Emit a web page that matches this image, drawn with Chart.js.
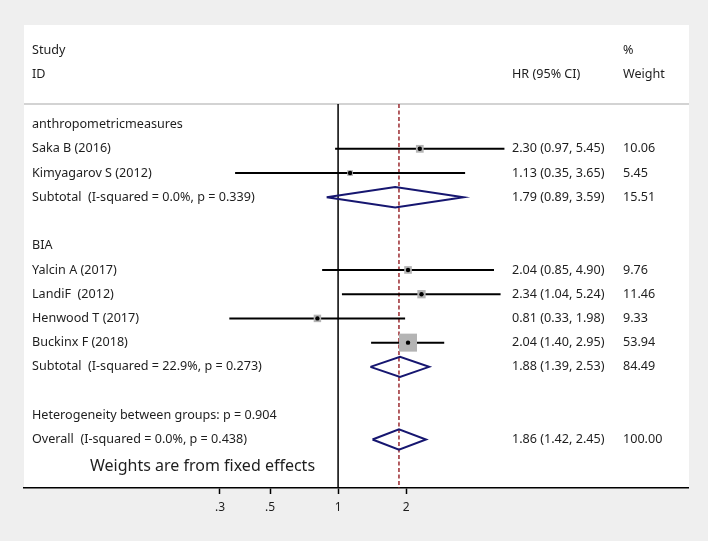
<!DOCTYPE html>
<html>
<head>
<meta charset="utf-8">
<script src="https://cdn.jsdelivr.net/npm/chart.js@4"></script>
<style>
  body { margin: 0; background: #efefef; }
  canvas { display: block; }
</style>
</head>
<body>
<canvas id="forestChart" width="708" height="541"></canvas>
<script>
// individual studies
const studyLabels = ['Saka B (2016)', 'Kimyagarov S (2012)', 'Yalcin A (2017)', 'LandiF  (2012)', 'Henwood T (2017)', 'Buckinx F (2018)'];
const studyRows = [1, 2, 6, 7, 8, 9];
const hr = [2.30, 1.13, 2.04, 2.34, 0.81, 2.04];
const ciLow = [0.97, 0.35, 0.85, 1.04, 0.33, 1.40];
const ciHigh = [5.45, 3.65, 4.90, 5.24, 1.98, 2.95];
const weights = [10.06, 5.45, 9.76, 11.46, 9.33, 53.94];

// pooled estimates (subtotals + overall)
const poolLabels = ['Subtotal  (I-squared = 0.0%, p = 0.339)', 'Subtotal  (I-squared = 22.9%, p = 0.273)', 'Overall  (I-squared = 0.0%, p = 0.438)'];
const poolRows = [3, 10, 13];
const poolHr = [1.79, 1.88, 1.86];
const poolLow = [0.89, 1.39, 1.42];
const poolHigh = [3.59, 2.53, 2.45];
const poolWeights = [15.51, 84.49, 100.00];

// group headings
const headingLabels = ['anthropometricmeasures', 'BIA', 'Heterogeneity between groups: p = 0.904'];
const headingRows = [0, 5, 12];

const xTicks = [0.3, 0.5, 1, 2];

const FONT = '"Noto Sans", "Open Sans", sans-serif';
const Y_MIN = -0.85, Y_MAX = 15;

const fmt = v => v.toFixed(2);

const ciSets = hr.map((v, i) => ({
    type: 'line',
    data: [{ x: ciLow[i], y: studyRows[i] }, { x: ciHigh[i], y: studyRows[i] }],
    borderColor: '#000',
    borderWidth: 2,
    pointRadius: 0,
    order: 3
}));

const diamondSets = poolHr.map((v, i) => ({
    type: 'line',
    data: [
        { x: poolLow[i], y: poolRows[i] },
        { x: v, y: poolRows[i] - 0.42 },
        { x: poolHigh[i], y: poolRows[i] },
        { x: v, y: poolRows[i] + 0.42 },
        { x: poolLow[i], y: poolRows[i] }
    ],
    borderColor: '#161670',
    borderWidth: 2,
    pointRadius: 0,
    fill: false,
    tension: 0,
    order: 2
}));

const bgPlugin = {
    id: 'panel',
    beforeDraw(chart) {
        const { ctx, chartArea } = chart;
        ctx.save();
        ctx.fillStyle = '#efefef';
        ctx.fillRect(0, 0, chart.width, chart.height);
        ctx.fillStyle = '#ffffff';
        ctx.fillRect(chartArea.left, 25, chartArea.right - chartArea.left + 1, chartArea.bottom - 25);
        ctx.strokeStyle = '#c4c4c4';
        ctx.lineWidth = 1.5;
        ctx.beginPath();
        ctx.moveTo(chartArea.left, chartArea.top);
        ctx.lineTo(chartArea.right + 1, chartArea.top);
        ctx.stroke();
        ctx.restore();
    }
};

const textPlugin = {
    id: 'forestText',
    afterDraw(chart) {
        const { ctx, chartArea, scales: { y } } = chart;
        const colLabel = 32, colHr = 512, colW = 623;
        ctx.save();
        ctx.fillStyle = '#1e1e1e';
        ctx.textBaseline = 'middle';
        ctx.font = '12.6px ' + FONT;

        // header
        ctx.fillText('Study', colLabel, chartArea.top - 54);
        ctx.fillText('ID', colLabel, chartArea.top - 30);
        ctx.fillText('HR (95% CI)', colHr, chartArea.top - 30);
        ctx.fillText('%', colW, chartArea.top - 54);
        ctx.fillText('Weight', colW, chartArea.top - 30);

        headingLabels.forEach((t, i) => ctx.fillText(t, colLabel, y.getPixelForValue(headingRows[i])));

        studyLabels.forEach((t, i) => {
            const py = y.getPixelForValue(studyRows[i]);
            ctx.fillText(t, colLabel, py);
            ctx.fillText(fmt(hr[i]) + ' (' + fmt(ciLow[i]) + ', ' + fmt(ciHigh[i]) + ')', colHr, py);
            ctx.fillText(fmt(weights[i]), colW, py);
        });

        poolLabels.forEach((t, i) => {
            const py = y.getPixelForValue(poolRows[i]);
            ctx.fillText(t, colLabel, py);
            ctx.fillText(fmt(poolHr[i]) + ' (' + fmt(poolLow[i]) + ', ' + fmt(poolHigh[i]) + ')', colHr, py);
            ctx.fillText(fmt(poolWeights[i]), colW, py);
        });

        ctx.font = '16px ' + FONT;
        ctx.fillText('Weights are from fixed effects', 90, y.getPixelForValue(14.1));
        ctx.restore();
    }
};

const ctx = document.getElementById('forestChart').getContext('2d');
const forestChart = new Chart(ctx, {
    type: 'scatter',
    data: {
        datasets: [
            // null line and overall estimate line
            {
                type: 'line',
                data: [{ x: 1, y: Y_MIN }, { x: 1, y: Y_MAX }],
                borderColor: '#000',
                borderWidth: 1.5,
                pointRadius: 0,
                order: 5
            },
            {
                type: 'line',
                data: [{ x: poolHr[2], y: Y_MIN }, { x: poolHr[2], y: Y_MAX }],
                borderColor: '#9b2a30',
                borderWidth: 1.5,
                borderDash: [4, 2.5],
                pointRadius: 0,
                order: 4
            },
            ...ciSets,
            ...diamondSets,
            {
                // weight boxes
                data: hr.map((v, i) => ({ x: v, y: studyRows[i] })),
                pointStyle: 'rect',
                pointRadius: weights.map(w => Math.sqrt(w) * 2.45 / Math.SQRT2),
                backgroundColor: '#b4b4b4',
                borderWidth: 0,
                order: 1
            },
            {
                // point estimates
                data: hr.map((v, i) => ({ x: v, y: studyRows[i] })),
                pointStyle: 'circle',
                pointRadius: 2.2,
                backgroundColor: '#000',
                borderWidth: 0,
                order: 0
            }
        ]
    },
    options: {
        responsive: false,
        animation: false,
        layout: { padding: { left: 24, right: 20, top: 104, bottom: 20.6 } },
        plugins: {
            legend: { display: false },
            tooltip: { enabled: false }
        },
        scales: {
            x: {
                type: 'logarithmic',
                min: 0.0407,
                max: 35.4,
                afterBuildTicks: scale => {
                    scale.ticks = xTicks.map(v => ({ value: v }));
                },
                ticks: {
                    autoSkip: false,
                    maxRotation: 0,
                    padding: 6,
                    color: '#1e1e1e',
                    font: { family: FONT, size: 12 },
                    callback: value => String(value).replace(/^0/, '')
                },
                grid: {
                    drawOnChartArea: false,
                    drawTicks: true,
                    tickLength: 6,
                    tickWidth: 1.5,
                    color: '#000'
                },
                border: { display: true, color: '#000', width: 1.5 }
            },
            y: {
                type: 'linear',
                reverse: true,
                min: Y_MIN,
                max: Y_MAX,
                display: false
            }
        }
    },
    plugins: [bgPlugin, textPlugin]
});
</script>
</body>
</html>
